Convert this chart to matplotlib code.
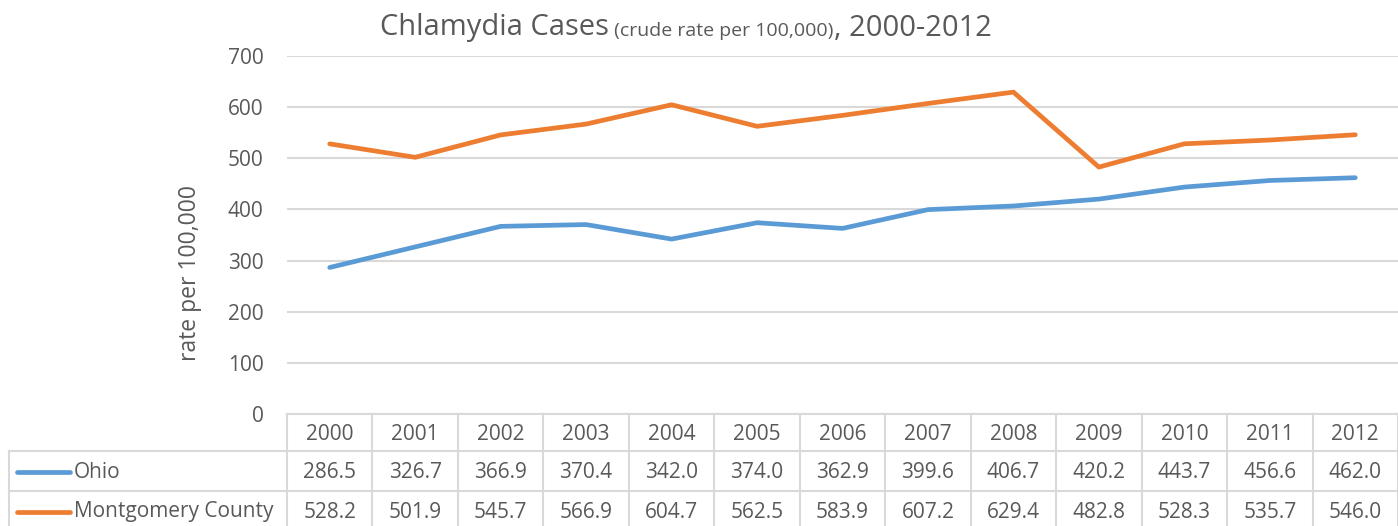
import matplotlib.pyplot as plt
import matplotlib.transforms as mtransforms
from matplotlib.offsetbox import TextArea, HPacker, AnchoredOffsetbox
import numpy as np

plt.rcParams['font.family'] = ['Open Sans', 'DejaVu Sans']

years = ['2000', '2001', '2002', '2003', '2004', '2005', '2006',
         '2007', '2008', '2009', '2010', '2011', '2012']
ohio = [286.5, 326.7, 366.9, 370.4, 342.0, 374.0, 362.9,
        399.6, 406.7, 420.2, 443.7, 456.6, 462.0]
montgomery = [528.2, 501.9, 545.7, 566.9, 604.7, 562.5, 583.9,
              607.2, 629.4, 482.8, 528.3, 535.7, 546.0]
series_names = ['Ohio', 'Montgomery County']
series_colors = ['#5B9BD5', '#ED7D31']

W, H = 1398, 526
fig = plt.figure(figsize=(W / 100, H / 100), dpi=100)

# plot area in pixels
left, right, top, bottom = 287, 1398, 56, 414
ax = fig.add_axes([left / W, 1 - bottom / H, (right - left) / W, (bottom - top) / H])

txt_color = '#595959'
grid_color = '#D9D9D9'
fs = 15

x = np.arange(len(years))
for vals, c in zip([ohio, montgomery], series_colors):
    ax.plot(x, vals, color=c, linewidth=3.4, solid_capstyle='round', zorder=3)

ax.set_xlim(-0.5, len(years) - 0.5)
ax.set_ylim(0, 700)
ax.set_yticks(range(0, 701, 100))
ax.tick_params(axis='y', length=0, pad=17, labelsize=fs, labelcolor=txt_color)
ax.set_xticks([])
ax.grid(axis='y', color=grid_color, linewidth=1.5)
ax.set_axisbelow(True)
for s in ax.spines.values():
    s.set_visible(False)

fig.text(190 / W, 1 - 273 / H, 'rate per 100,000', rotation=90, ha='center', va='center',
         fontsize=16.5, color=txt_color)

# title with mixed font sizes
parts = [('Chlamydia Cases', 21), (' (crude rate per 100,000)', 14), (', 2000-2012', 21)]
boxes = [TextArea(t, textprops=dict(fontsize=s, color=txt_color)) for t, s in parts]
pack = HPacker(children=boxes, align='baseline', pad=0, sep=0)
ab = AnchoredOffsetbox(loc='center', child=pack, frameon=False, pad=0, borderpad=0,
                       bbox_to_anchor=(686 / W, 1 - 28 / H), bbox_transform=fig.transFigure)
fig.add_artist(ab)

# data table below the axes
tr = mtransforms.blended_transform_factory(ax.transData, fig.transFigure)
def fy(py):
    return 1 - py / H

row_y = [414, 451, 491, 526]
edges = np.arange(len(years) + 1) - 0.5
lw = 1.5
ax.plot([edges[0], edges[-1]], [fy(414)] * 2, transform=tr, color=grid_color, lw=lw, clip_on=False)
for py in row_y[1:3]:
    fig.add_artist(plt.Line2D([9 / W, 1], [fy(py)] * 2, color=grid_color, lw=lw))
for e in edges:
    ax.plot([e, e], [fy(414), fy(526)], transform=tr, color=grid_color, lw=lw, clip_on=False)
fig.add_artist(plt.Line2D([9 / W, 9 / W], [fy(row_y[1]), fy(526)], color=grid_color, lw=lw))

for i, yr in enumerate(years):
    ax.text(i, fy(435), yr, transform=tr, ha='center', va='center', fontsize=fs, color=txt_color)
row_centers = [472, 512]
for yc_px, vals, name, c in zip(row_centers, [ohio, montgomery], series_names, series_colors):
    yc = fy(yc_px)
    for i, v in enumerate(vals):
        ax.text(i, yc, f'{v:.1f}', transform=tr, ha='center', va='center',
                fontsize=fs, color=txt_color)
    fig.add_artist(plt.Line2D([17 / W, 70 / W], [yc, yc], color=c, lw=3.4, solid_capstyle='round'))
    fig.text(74 / W, yc, name, ha='left', va='center', fontsize=fs, color=txt_color)

fig.savefig('out.png', dpi=100)
